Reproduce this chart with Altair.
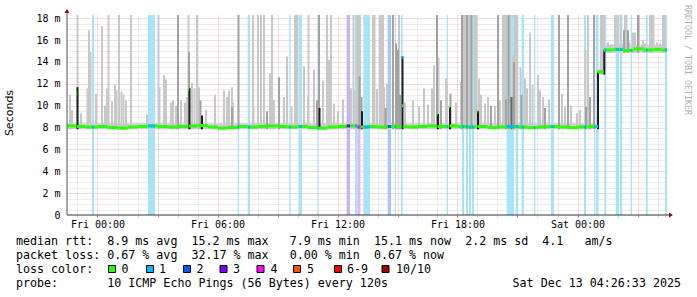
import altair as alt
import pandas as pd

# ---------------- chart values (hours relative to Fri 00:00, values in ms) ----------------
X_MIN, X_MAX = -1.525, 28.475
Y_TOP = 18.3

# background loss bands
band_start = [-0.275, 2.525, 7.01, 7.51, 9.59, 10.06, 10.99, 12.46, 12.875, 13.0, 13.29, 14.51,
              14.875, 15.175, 17.46, 18.225, 18.425, 18.575, 18.725, 20.46, 20.91, 21.21, 21.825,
              22.675, 24.325, 24.825, 24.91, 25.34, 25.91, 26.125, 26.66, 27.425, 28.375]
band_end = [-0.175, 2.875, 7.075, 7.625, 9.66, 10.225, 11.04, 12.625, 13.0, 13.15, 13.625, 14.675,
            14.925, 15.26, 17.525, 18.325, 18.525, 18.675, 18.825, 20.825, 21.04, 21.325, 21.89,
            22.825, 24.425, 24.875, 25.04, 25.44, 26.075, 26.24, 26.725, 27.51, 28.475]
band_loss = [1, 1, 1, 1, 1, 1, 1, 3, 1, 4, 1, 2, 1, 1, 1, 1, 1, 1, 1, 1, 1, 1, 1, 1, 1, 1, 1, 1, 1,
             1, 1, 1, 1]

# median rtt (segment start, value)
med_start = [-1.525, -1.08, -1.02, -0.6, 0.0, 0.5, 1.0, 1.5, 2.0, 2.5, 3.0, 3.5, 4.0, 4.52, 4.58,
             5.0, 5.5, 6.0, 6.5, 7.0, 7.5, 8.0, 8.5, 9.0, 9.5, 10.0, 10.5, 11.0, 11.5, 12.0, 12.5,
             13.0, 13.5, 14.0, 14.5, 15.17, 15.23, 15.29, 15.5, 16.0, 16.5, 16.95, 17.0, 17.55,
             17.6, 18.0, 18.5, 18.95, 19.0, 19.5, 20.0, 20.5, 21.0, 21.5, 22.0, 22.5, 23.0, 23.5,
             24.0, 24.5, 24.99, 25.3, 25.8, 26.3, 26.8, 27.3, 27.8, 28.2]
med_value = [8.15, 11.1, 8.1, 8.05, 8.1, 8.0, 7.95, 8.05, 8.1, 8.15, 8.1, 8.05, 8.1, 11.5, 8.15,
             8.2, 8.05, 7.95, 8.0, 8.1, 8.05, 8.1, 8.15, 8.1, 8.05, 8.1, 8.0, 7.95, 8.05, 8.1, 8.15,
             8.05, 8.1, 8.05, 8.1, 14.4, 10.0, 8.1, 8.05, 8.1, 8.15, 9.25, 8.1, 9.85,
             8.15, 8.1, 8.05, 9.5, 8.1, 8.0, 8.05, 8.1, 8.05, 8.0, 8.05, 8.1, 8.05, 8.0,
             8.05, 8.1, 13.1, 15.1, 15.15, 15.05, 15.2, 15.1, 15.15, 15.1]

# continuous smoke around the median
base_start = [-1.525, 24.99, 25.3]
base_end = [24.99, 25.3, 28.475]
base_low = [7.85, 12.85, 14.85]
base_high = [8.4, 13.35, 15.6]

# smoke spikes (time, top of smoke, shade 0=light .. 3=black)
spike_hour = [-1.425, -1.325, -1.05, -1.05, -0.875, -0.55, -0.475, -0.4, -0.125, 0.175, 0.325, 0.425,
              0.5, 0.675, 0.825, 0.9, 1.025, 1.15, 1.25, 1.375, 1.625, 2.425, 3.0, 3.05, 3.275,
              3.375, 3.625, 3.725, 3.875, 3.975, 4.125, 4.325, 4.425, 4.5, 4.525, 4.55, 4.675, 4.8,
              4.925, 5.025, 5.1, 5.175, 5.375, 5.825, 6.275, 6.425, 6.525, 6.675, 6.675, 6.725, 7.0,
              7.725, 7.75, 7.975, 8.125, 8.275, 8.425, 8.575, 8.675, 8.775, 9.025, 9.275, 9.425,
              9.65, 9.825, 9.925, 10.275, 10.475, 10.5, 10.775, 10.925, 11.025, 11.05, 11.225,
              11.425, 11.525, 11.625, 11.775, 11.975, 12.225, 12.625, 12.75, 12.8, 12.925, 12.975,
              13.025, 13.075, 13.05, 13.15, 13.175, 13.725, 13.8, 13.925, 14.075, 14.125, 14.175,
              14.225, 14.275, 14.35, 14.425, 14.725, 14.875, 14.975, 15.025, 15.075, 15.2, 15.325,
              15.725, 16.025, 16.275, 16.475, 16.675, 16.775, 16.925, 16.975, 17.0, 17.125, 17.375,
              17.425, 17.575, 17.6, 17.875, 18.125, 18.175, 18.275, 18.35, 18.425, 18.5, 18.575,
              18.65, 18.825, 18.9, 18.975, 19.025, 19.125, 19.325, 19.475, 19.625, 19.825, 19.975,
              20.075, 20.225, 20.275, 20.325, 20.375, 20.375, 20.5, 20.575, 20.65, 20.725, 20.775,
              20.825, 20.875, 20.925, 21.1, 21.15, 21.325, 21.425, 21.575, 21.7, 21.975, 22.075,
              22.225, 22.325, 22.525, 23.025, 23.175, 23.325, 23.475, 23.625, 23.925, 24.075,
              24.35, 24.375, 24.475, 24.575, 24.775, 24.975, 25.125, 25.175, 25.225, 25.275, 25.29,
              25.475, 25.625, 25.825, 25.95, 26.1, 26.275, 26.325, 26.4, 26.475, 26.525, 26.725,
              26.825, 26.975, 27.025, 27.225, 27.325, 27.575, 27.675, 27.75, 27.925, 28.075,
              28.225, 28.3]
spike_top = [11.0, 9.6, 18.3, 11.7, 9.3, 11.6, 16.9, 14.9, 11.1, 17.3, 10.0, 11.6,
             18.3, 10.4, 11.9, 11.4, 18.3, 11.3, 11.0, 10.5, 18.3, 9.2, 18.3, 11.7, 12.8,
             12.4, 10.3, 10.5, 10.0, 18.3, 10.5, 10.3, 10.8, 18.3, 14.9, 11.6, 12.1, 11.6,
             18.3, 11.7, 10.5, 9.1, 9.6, 11.0, 11.4, 10.8, 11.4, 11.7, 9.9, 10.3, 18.3,
             18.3, 10.0, 18.3, 18.3, 18.3, 9.5, 13.0, 18.3, 10.5, 12.6, 10.8, 14.5,
             9.9, 18.3, 18.3, 13.6, 10.8, 18.3, 13.3, 10.5, 18.3, 9.8, 12.3,
             18.3, 14.2, 18.3, 10.2, 9.5, 10.6, 11.6, 18.3, 11.4, 18.3, 18.3,
             18.3, 18.3, 12.7, 10.8, 9.5, 18.3, 18.3, 11.5, 18.3, 18.3, 18.3,
             18.3, 11.7, 9.8, 12.0, 18.3, 15.7, 15.1, 18.3, 11.0, 14.5, 10.3,
             10.5, 9.9, 11.6, 10.1, 11.6, 13.7, 18.3, 9.25, 14.4, 10.5, 12.5,
             12.0, 9.85, 11.1, 10.3, 12.2, 18.3, 18.3, 18.3, 18.3, 18.3, 18.3,
             18.3, 18.3, 18.3, 9.5, 12.5, 11.0, 10.2, 10.8, 10.0, 10.0, 18.3,
             10.5, 18.3, 18.3, 18.3, 18.3, 10.6, 18.3, 18.3, 10.8, 14.6, 14.0,
             18.3, 18.3, 18.3, 13.5, 11.0, 12.5, 11.6, 16.7, 11.9, 12.8, 11.4,
             10.8, 9.8, 10.6, 18.3, 11.1, 9.9, 18.3, 10.0, 9.3, 9.6,
             15.1, 9.9, 18.3, 10.8, 18.3, 13.1, 18.3, 18.3, 18.3, 18.3, 15.1,
             15.8, 15.6, 18.3, 18.3, 18.3, 16.9, 18.3, 18.3, 16.9, 15.8, 16.7,
             16.7, 18.3, 18.3, 16.0, 15.7, 18.3, 18.3, 18.3, 15.8, 15.7,
             18.3, 18.3]
spike_shade = [0, 0, 0, 3, 0, 0, 0, 0, 0, 0, 0, 0,
               0, 0, 0, 0, 0, 0, 0, 0, 0, 0, 0, 0, 0,
               0, 0, 0, 0, 1, 0, 0, 0, 0, 1, 3, 0, 0,
               0, 0, 1, 3, 0, 0, 0, 0, 0, 0, 1, 0, 1,
               0, 0, 0, 0, 0, 1, 0, 0, 0, 1, 0, 0,
               0, 0, 0, 0, 0, 0, 0, 1, 1, 3, 0,
               0, 0, 0, 0, 0, 0, 0, 0, 0, 0, 0,
               0, 0, 1, 1, 3, 0, 0, 0, 0, 0, 0,
               0, 0, 1, 0, 1, 1, 1, 0, 1, 3, 0,
               0, 0, 0, 0, 0, 0, 1, 3, 0, 1, 0,
               0, 3, 1, 0, 0, 1, 0, 0, 1, 0, 0,
               1, 0, 0, 3, 0, 0, 0, 0, 1, 0, 1,
               0, 0, 0, 0, 0, 1, 1, 0, 2, 0, 1,
               0, 0, 0, 0, 1, 0, 0, 0, 0, 0, 0,
               0, 1, 0, 1, 0, 0, 1, 0, 0, 0,
               0, 1, 0, 1, 1, 3, 0, 0, 0, 0, 3,
               0, 0, 0, 0, 0, 1, 0, 0, 1, 0, 0,
               0, 1, 0, 0, 0, 0, 0, 0, 0, 0,
               0, 0]

# axis ticks
x_ticks = list(range(-1, 29))
y_ticks = [i * 0.5 for i in range(37)]

# legend texts
line_rtt = "median rtt:  8.9 ms avg  15.2 ms max   7.9 ms min  15.1 ms now  2.2 ms sd  4.1   am/s"
line_loss = "packet loss: 0.67 % avg  32.17 % max   0.00 % min  0.67 % now"
line_color = "loss color:"
loss_labels = ["0", "1", "2", "3", "4", "5", "6-9", "10/10"]
line_probe = "probe:       10 ICMP Echo Pings (56 Bytes) every 120s"
stamp = "Sat Dec 13 04:26:33 2025"
watermark = "RRDTOOL / TOBI OETIKER"

# ---------------- styling ----------------
LOSS_COLORS = {0: "#26ff00", 1: "#00b8ff", 2: "#0059ff", 3: "#7e00ff", 4: "#ff00fe",
               5: "#ff5500", 6: "#ff0000", 10: "#a10000"}
LEGEND_COLORS = ["#26ff00", "#00b8ff", "#0059ff", "#7e00ff", "#ff00fe", "#ff5500", "#ff0000", "#a10000"]
BAND_COLORS = {1: "#a8e4f8", 2: "#a9c6fa", 3: "#c9b2f2", 4: "#e6b4f0"}
SHADES = ["#c8c8c8", "#a2a2a2", "#646464", "#1e1e1e"]
MAJOR = "#ecb4b4"
MINOR = "#dadada"
MONO = "DejaVu Sans Mono"
SPIKE_W = 0.1  # hours

L, T = 67, 15  # plot origin in page pixels

# ---------------- tables ----------------
band_df = pd.DataFrame({"s": band_start, "e": band_end,
                        "c": [BAND_COLORS[k] for k in band_loss]})

med_end = med_start[1:] + [X_MAX]
med_df = pd.DataFrame({"s": med_start, "e": med_end, "v": med_value})


def median_at(h):
    for s, e, v in zip(med_start, med_end, med_value):
        if s <= h < e:
            return v
    return med_value[-1]


ov_df = pd.DataFrame({"s": band_start, "e": band_end,
                      "v": [median_at((s + e) / 2) for s, e in zip(band_start, band_end)],
                      "c": [LOSS_COLORS[k] for k in band_loss]})

base_df = pd.DataFrame({"s": base_start, "e": base_end, "lo": base_low, "hi": base_high})


def base_at(h):
    for s, e, lo in zip(base_start, base_end, base_low):
        if s <= h < e:
            return lo
    return base_low[-1]


spk = pd.DataFrame({"s": spike_hour, "top": spike_top, "shade": spike_shade})
spk["e"] = spk["s"] + SPIKE_W
spk["lo"] = [base_at(h) for h in spike_hour]
spk["c"] = [SHADES[k] for k in spike_shade]
spk = spk.sort_values("shade", kind="stable").reset_index(drop=True)
spk["order"] = range(len(spk))

one = pd.DataFrame({"a": [0]})

xs = alt.Scale(domain=[X_MIN, X_MAX], nice=False, zero=False)
ys = alt.Scale(domain=[0, Y_TOP], nice=False, zero=False)

x_axis = alt.Axis(
    values=x_ticks, grid=True,
    gridColor={"condition": {"test": "datum.value % 3 === 0", "value": MAJOR}, "value": MINOR},
    gridDash=[1, 1], gridWidth=1, domain=False, ticks=True, tickSize=2,
    tickColor={"condition": {"test": "datum.value % 3 === 0", "value": "#d07070"}, "value": "#cccccc"},
    labelExpr="datum.value % 6 === 0 ? (datum.value < 24 ? 'Fri ' : 'Sat ') + format(datum.value % 24, '02d') + ':00' : ''",
    labelFont=MONO, labelFontSize=10, labelColor="#000000", labelPadding=2,
    labelOverlap=False, labelFlush=False, title=None)

y_axis = alt.Axis(
    values=y_ticks, grid=True,
    gridColor={"condition": {"test": "datum.value % 2 === 0", "value": MAJOR}, "value": MINOR},
    gridOpacity={"condition": {"test": "datum.value === 0", "value": 0}, "value": 1},
    gridDash=[1, 1], gridWidth=1, domain=False, ticks=False,
    labelExpr="datum.value === 0 ? '0' : (datum.value % 2 === 0 ? format(datum.value, 'd') + ' m' : '')",
    labelFont=MONO, labelFontSize=10, labelColor="#000000", labelPadding=7,
    labelOverlap=False, labelFlush=False, title=None)

X = lambda f: alt.X(f, scale=xs, axis=x_axis)
Y = lambda f: alt.Y(f, scale=ys, axis=y_axis)

bands = alt.Chart(band_df).mark_rect().encode(
    x=X("s:Q"), x2="e:Q",
    y=alt.datum(Y_TOP, scale=ys, axis=y_axis), y2=alt.datum(0),
    color=alt.Color("c:N", scale=None))

base = alt.Chart(base_df).mark_rect(color="#d0d0d0").encode(
    x=X("s:Q"), x2="e:Q", y=Y("lo:Q"), y2="hi:Q")

spikes = alt.Chart(spk).mark_rect(clip=True).encode(
    x=X("s:Q"), x2="e:Q", y=Y("lo:Q"), y2="top:Q",
    color=alt.Color("c:N", scale=None),
    order=alt.Order("order:Q"))

median = alt.Chart(med_df).mark_rule(color=LOSS_COLORS[0], strokeWidth=3).encode(
    x=X("s:Q"), x2="e:Q", y=Y("v:Q"))

median_loss = alt.Chart(ov_df).mark_rule(strokeWidth=3).encode(
    x=X("s:Q"), x2="e:Q", y=Y("v:Q"),
    color=alt.Color("c:N", scale=None))

AX = "#353535"
y_line = alt.Chart(one).mark_rule(color="#555555", strokeWidth=1).encode(
    x=alt.value(0), y=alt.value(-3), y2=alt.value(200))
x_line = alt.Chart(one).mark_rule(color=AX, strokeWidth=1).encode(
    x=alt.value(0), x2=alt.value(603), y=alt.value(200))
up_arrow = alt.Chart(one).mark_point(
    shape="M-1,0.8L1,0.8L0,-0.8Z", filled=True, size=25, color="#a00000", opacity=1).encode(
    x=alt.value(0), y=alt.value(-4))
right_arrow = alt.Chart(one).mark_point(
    shape="M-0.8,-1L-0.8,1L0.8,0Z", filled=True, size=25, color="#a00000", opacity=1).encode(
    x=alt.value(604), y=alt.value(200))

NBSP = "\u00a0"


def text(s, x, y, align="left", size=11.66, font=MONO, color="#000000", angle=0, baseline="alphabetic"):
    kw = dict(text=s.replace(" ", NBSP), align=align, baseline=baseline, font=font,
              fontSize=size, color=color)
    if angle:
        kw["angle"] = angle
    return alt.Chart(one).mark_text(**kw).encode(x=alt.value(x - L), y=alt.value(y - T))


texts = [
    text("Seconds", 10, 113, align="center", size=11, font="DejaVu Sans", angle=270, baseline="middle"),
    text(watermark, 687, 60, align="center", size=8.3, color="#b0b0b0", angle=90, baseline="middle"),
    text(line_rtt, 16, 245),
    text(line_loss, 16, 259),
    text(line_color, 16, 272.5),
    text(line_probe, 16, 286.5),
    text(stamp, 681, 286.5, align="right"),
]

box_left = [108, 146, 183, 219.5, 256.5, 293, 334, 381.5]
label_left = [121.5, 159, 196.5, 233, 270.5, 307, 347, 396]
for c, lab, bx, lx in zip(LEGEND_COLORS, loss_labels, box_left, label_left):
    texts.append(alt.Chart(one).mark_rect(color=c, stroke="#000000", strokeWidth=1).encode(
        x=alt.value(bx + 0.5 - L), x2=alt.value(bx + 7.5 - L),
        y=alt.value(265.5 - T), y2=alt.value(272.5 - T)))
    texts.append(text(lab, lx, 272.5))

chart = alt.layer(bands, base, spikes, median, median_loss, y_line, x_line, up_arrow, right_arrow,
                  *texts).properties(
    width=600, height=200,
    padding={"left": L, "top": T, "right": 30, "bottom": 82},
    autosize=alt.AutoSizeParams(type="none"),
    background="#ffffff",
).configure_view(stroke=None)

chart.save("out.html", embed_options={"renderer": "svg", "actions": False})
